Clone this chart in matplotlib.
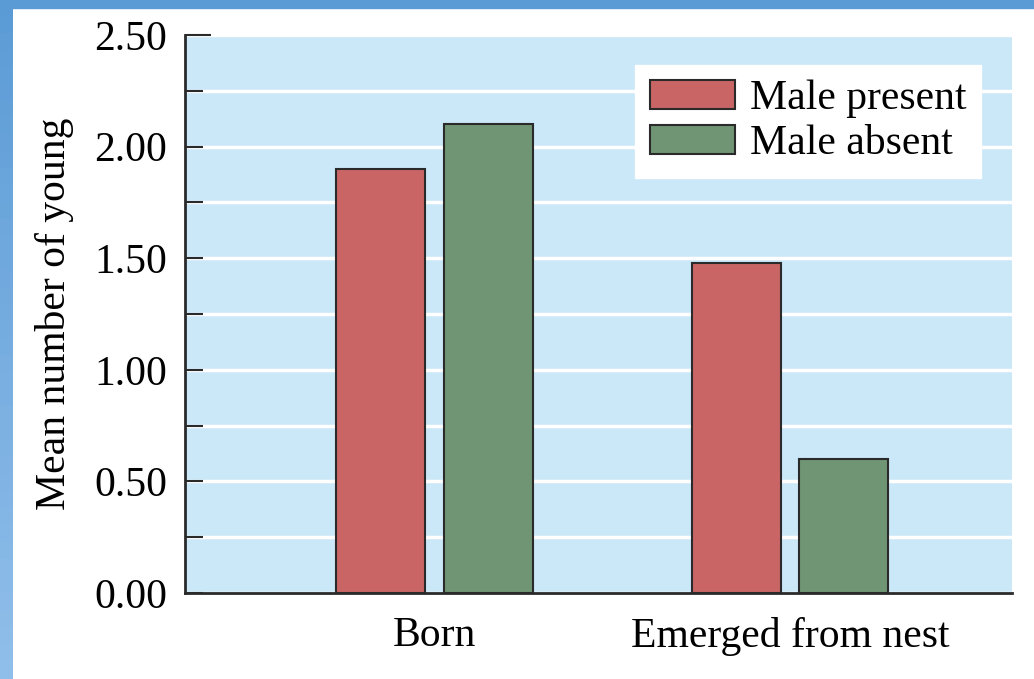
import matplotlib.pyplot as plt
import numpy as np
from matplotlib.patches import Rectangle

plt.rcParams.update({
    "font.family": ["Liberation Serif", "DejaVu Serif"],
    "font.size": 30,
})

groups = ["Born", "Emerged from nest"]
series = ["Male present", "Male absent"]
male_present = [1.90, 1.48]
male_absent = [2.10, 0.60]
y_ticks = [0.00, 0.50, 1.00, 1.50, 2.00, 2.50]

RED = "#c96565"
GREEN = "#6f9574"
BG = "#cae8f8"

fig = plt.figure(figsize=(10.34, 6.79), dpi=100)
fig.patch.set_facecolor("white")

# blue slide frame on top and left
fig.patches.append(Rectangle((0, 1 - 8 / 679), 1, 8 / 679, transform=fig.transFigure,
                             color="#5b9bd5", zorder=0))
n = 40
top_c = np.array([0x5b, 0x9b, 0xd5])
bot_c = np.array([0x90, 0xbe, 0xea])
for i in range(n):
    c = top_c + (bot_c - top_c) * i / (n - 1)
    fig.patches.append(Rectangle((0, 1 - (i + 1) / n), 13 / 1034, 1 / n + 0.002,
                                 transform=fig.transFigure, color=c / 255, zorder=0, lw=0))

ax = fig.add_axes([185 / 1034, 86 / 679, 827 / 1034, 558 / 679])
ax.set_facecolor(BG)

x = np.arange(len(groups))
w = 0.25
off = 0.151
ax.bar(x - off, male_present, w, color=RED, edgecolor="#2a2a2a", linewidth=1.5,
       label=series[0], zorder=3)
ax.bar(x + off, male_absent, w, color=GREEN, edgecolor="#2a2a2a", linewidth=1.5,
       label=series[1], zorder=3)

ax.set_xlim(-0.702, 1.624)
ax.set_ylim(0, 2.5)
ax.set_yticks(y_ticks)
ax.set_yticklabels([f"{v:.2f}" for v in y_ticks])
ax.set_yticks(np.arange(0, 2.51, 0.25), minor=True)
ax.set_xticks(x)
ax.set_xticklabels(groups)

ax.yaxis.grid(True, which="both", color="white", linewidth=2.5, zorder=1)
ax.set_axisbelow(True)
ax.tick_params(axis="y", which="both", direction="in", length=13, width=1.5,
               color="#2a2a2a", pad=13)
ax.tick_params(axis="x", length=0, pad=17)
# top tick is drawn a bit longer in the original
ax.yaxis.get_major_ticks()[-1].tick1line.set_markersize(19)

for s in ["top", "right"]:
    ax.spines[s].set_visible(False)
for s in ["left", "bottom"]:
    ax.spines[s].set_linewidth(2)
    ax.spines[s].set_color("#2a2a2a")

ax.set_ylabel("Mean number of young", labelpad=14)

leg = ax.legend(loc="upper right", bbox_to_anchor=(0.9625, 0.946), frameon=True,
                fancybox=False, framealpha=1, edgecolor="white",
                handlelength=2.05, handleheight=0.7, handletextpad=0.35,
                labelspacing=0.15, borderpad=0.35, borderaxespad=0)
leg.set_zorder(5)

fig.savefig("out.png", dpi=100)
